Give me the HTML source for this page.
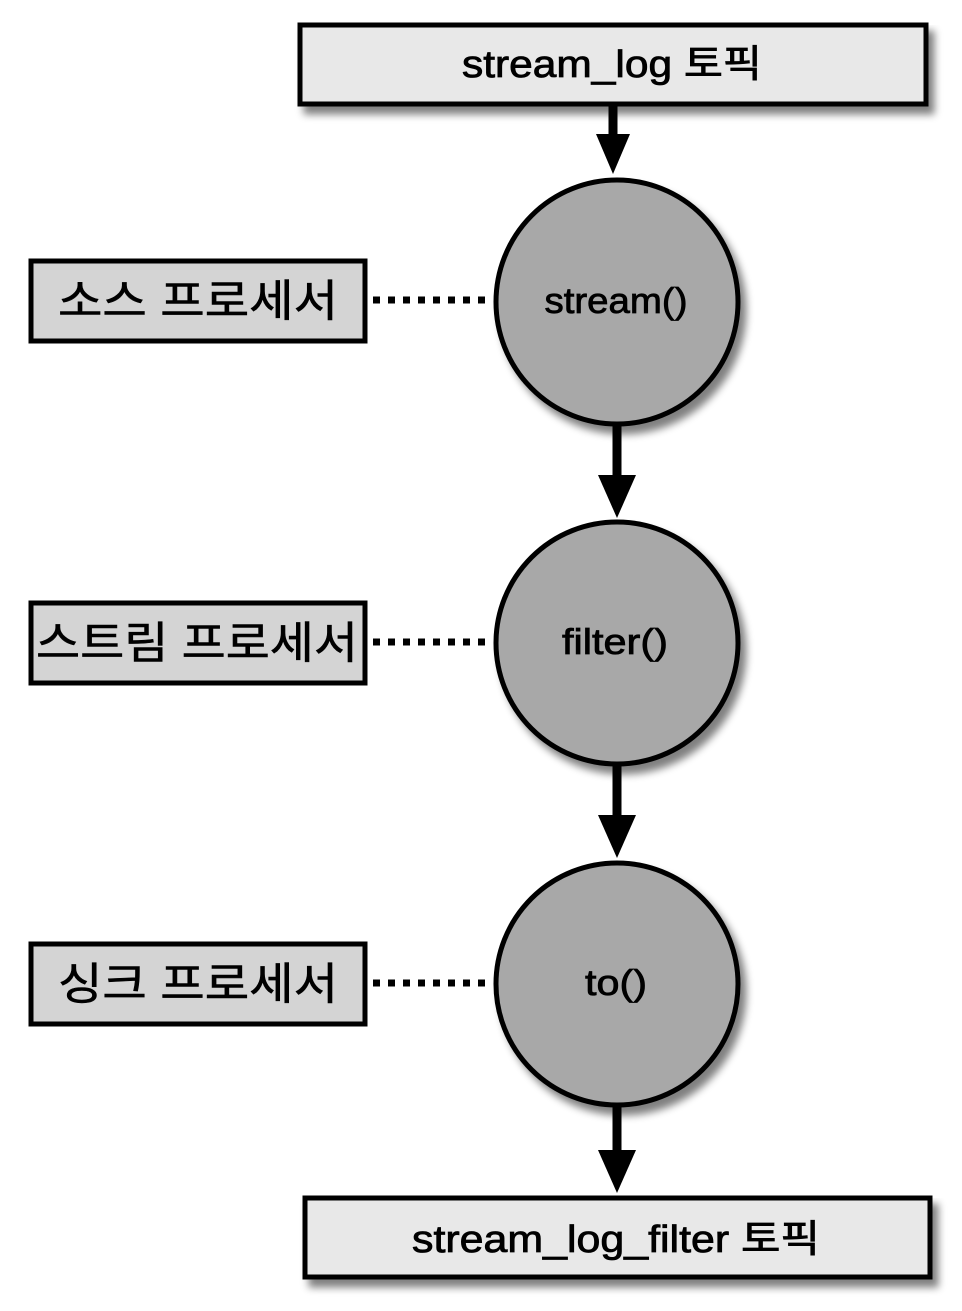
<!DOCTYPE html>
<html><head><meta charset="utf-8"><style>html,body{margin:0;padding:0;background:#fff}</style></head><body>
<svg width="962" height="1306" viewBox="0 0 962 1306" xmlns="http://www.w3.org/2000/svg">
<defs>
<filter id="sh" x="-10%" y="-10%" width="130%" height="140%">
<feGaussianBlur in="SourceAlpha" stdDeviation="4"/>
<feOffset dx="6" dy="8" result="b"/>
<feComponentTransfer><feFuncA type="linear" slope="0.5"/></feComponentTransfer>
<feMerge><feMergeNode/><feMergeNode in="SourceGraphic"/></feMerge>
</filter>
</defs>
<g font-family="'Liberation Sans','Noto Sans CJK KR',sans-serif" fill="#000">
<rect x="300" y="25" width="626" height="79" fill="#e8e8e8" stroke="#000" stroke-width="5" filter="url(#sh)"/>
<text x="612" y="77" font-size="38" text-anchor="middle" textLength="300" lengthAdjust="spacingAndGlyphs" stroke="#000" stroke-width="0.8">stream_log 토픽</text>
<rect x="305" y="1198" width="625" height="79" fill="#e8e8e8" stroke="#000" stroke-width="5" filter="url(#sh)"/>
<text x="616" y="1252" font-size="38" text-anchor="middle" textLength="408" lengthAdjust="spacingAndGlyphs" stroke="#000" stroke-width="0.8">stream_log_filter 토픽</text>
<g stroke="#000" stroke-width="9">
<line x1="613" y1="104" x2="613" y2="140"/>
<line x1="617" y1="425" x2="617" y2="480"/>
<line x1="617" y1="765" x2="617" y2="820"/>
<line x1="617" y1="1105" x2="617" y2="1155"/>
</g>
<polygon points="596,134 630,134 613,174" />
<polygon points="598,475 636,475 617,518" />
<polygon points="598,815 636,815 617,858" />
<polygon points="598,1150 636,1150 617,1193" />
<g fill="#a8a8a8" stroke="#000" stroke-width="5" filter="url(#sh)">
<ellipse cx="617" cy="302" rx="121" ry="122"/>
<ellipse cx="617" cy="643" rx="121" ry="121"/>
<ellipse cx="617" cy="984" rx="121" ry="121"/>
</g>
<g stroke="#000" stroke-width="0.8">
<text x="616" y="313" font-size="36" text-anchor="middle" textLength="143" lengthAdjust="spacingAndGlyphs">stream()</text>
<text x="615" y="654" font-size="36" text-anchor="middle" textLength="106" lengthAdjust="spacingAndGlyphs">filter()</text>
<text x="616" y="995" font-size="36" text-anchor="middle" textLength="62" lengthAdjust="spacingAndGlyphs">to()</text>
</g>
<g fill="#d4d4d4" stroke="#000" stroke-width="5">
<rect x="31" y="261" width="334" height="80"/>
<rect x="31" y="603" width="334" height="80"/>
<rect x="31" y="944" width="334" height="80"/>
</g>
<g stroke="#000" stroke-width="0.6">
<text x="198" y="316" font-size="44" text-anchor="middle" textLength="280" lengthAdjust="spacingAndGlyphs">소스 프로세서</text>
<text x="197" y="658" font-size="44" text-anchor="middle" textLength="322" lengthAdjust="spacingAndGlyphs">스트림 프로세서</text>
<text x="198" y="999" font-size="44" text-anchor="middle" textLength="280" lengthAdjust="spacingAndGlyphs">싱크 프로세서</text>
</g>
<g stroke="#000" stroke-width="7" stroke-dasharray="7,8">
<line x1="373" y1="300" x2="485" y2="300"/>
<line x1="373" y1="642" x2="485" y2="642"/>
<line x1="373" y1="983" x2="485" y2="983"/>
</g>
</g>
</svg>
</body></html>
